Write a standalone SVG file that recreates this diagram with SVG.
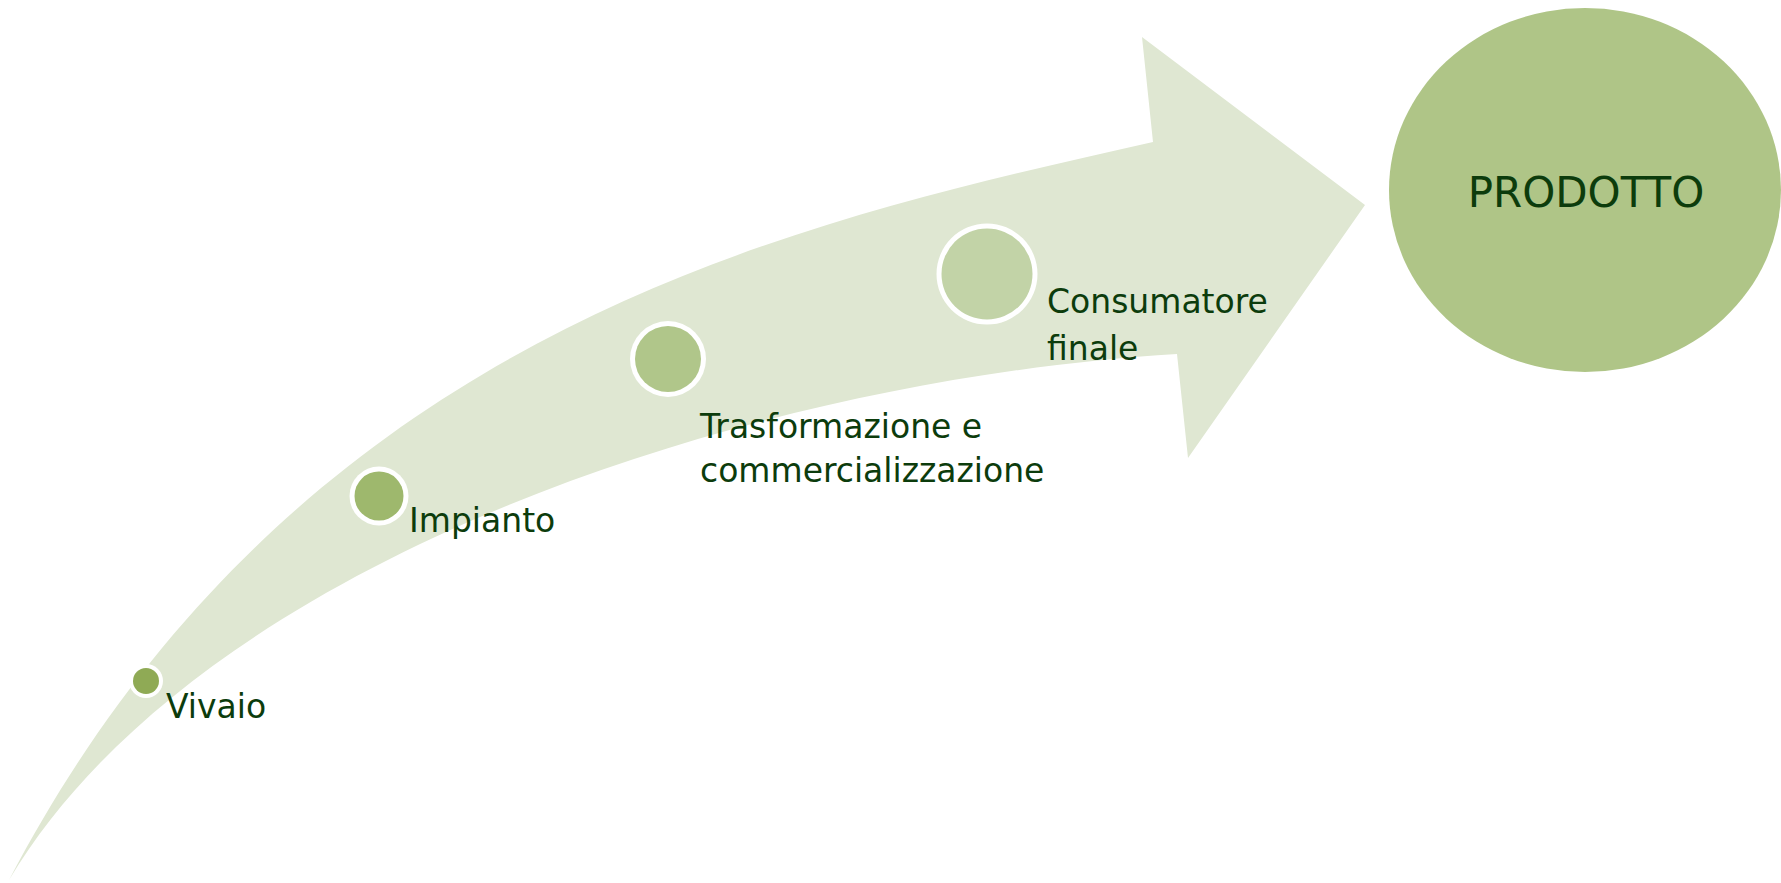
<svg xmlns="http://www.w3.org/2000/svg" width="1781" height="883" viewBox="0 0 1781 883">
  <style>
    .band { fill: #dfe7d2; }
    .ring { fill: #ffffff; }
    .label { font-family: 'Comic Sans MS', 'DejaVu Sans', sans-serif; font-size: 33px; fill: #0c3c0c; }
    .title { font-family: 'Comic Sans MS', 'DejaVu Sans', sans-serif; font-size: 42px; fill: #0c3c0c; text-anchor: middle; }
  </style>
  <rect width="1781" height="883" fill="#ffffff"/>

  <!-- curved arrow carrying the stages -->
  <g id="connectors">
    <path class="band" d="M 9 880 C 300 325 800 222 1153 142 L 1142 37 L 1365 205 L 1188 458 L 1177 354 C 750 380 200 560 9 880 Z"/>
  </g>

  <g id="vivaio">
    <circle class="ring" cx="146" cy="681" r="17"/>
    <circle cx="146" cy="681" r="13" fill="#8faa55"/>
    <text class="label" x="166" y="718">Vivaio</text>
  </g>

  <g id="impianto">
    <circle class="ring" cx="379" cy="496" r="29.5"/>
    <circle cx="379" cy="496" r="24.5" fill="#9eb86d"/>
    <text class="label" x="409" y="532">Impianto</text>
  </g>

  <g id="trasformazione">
    <circle class="ring" cx="668" cy="359" r="38"/>
    <circle cx="668" cy="359" r="33" fill="#b0c68a"/>
    <text class="label" x="700" y="438">Trasformazione e</text>
    <text class="label" x="700" y="482">commercializzazione</text>
  </g>

  <g id="consumatore">
    <circle class="ring" cx="987" cy="274" r="50.5"/>
    <circle cx="987" cy="274" r="45.5" fill="#c2d3a7"/>
    <text class="label" x="1047" y="313">Consumatore</text>
    <text class="label" x="1047" y="360">finale</text>
  </g>

  <g id="prodotto">
    <ellipse cx="1585" cy="190" rx="196" ry="182" fill="#afc587"/>
    <text class="title" x="1586" y="207">PRODOTTO</text>
  </g>
</svg>
